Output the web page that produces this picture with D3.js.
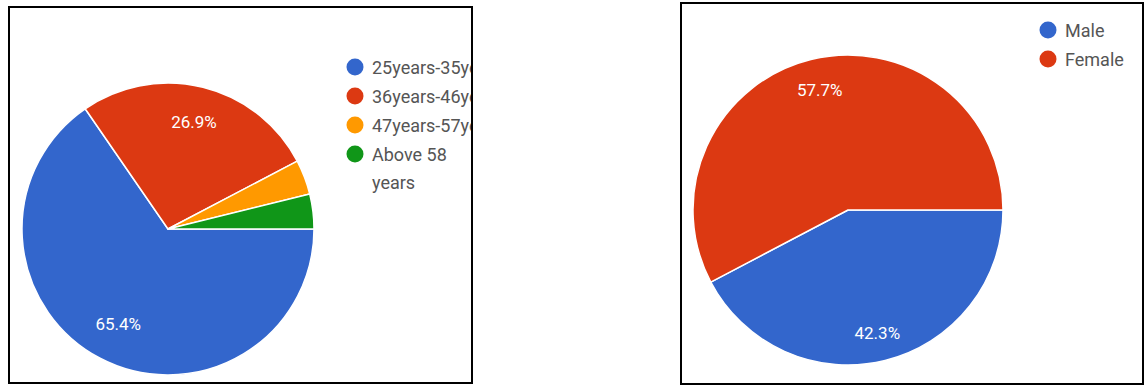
<!DOCTYPE html>
<html><head><meta charset="utf-8">
<script src="https://cdn.jsdelivr.net/npm/d3@7"></script>
<style>body{margin:0;background:#fff}svg{display:block}</style>
</head><body>
<svg id="c" width="1145" height="387"></svg>
<script>
const ageCategories = ["25years-35years", "36years-46years", "47years-57years", "Above 58 years"];
const ageLegendLines = [["25years-35years"], ["36years-46years"], ["47years-57years"], ["Above 58", "years"]];
const ageValues = [65.4, 26.9, 3.85, 3.85];
const ageLabels = ["65.4%", "26.9%", "", ""];
const genderCategories = ["Male", "Female"];
const genderValues = [42.3, 57.7];
const genderLabels = ["42.3%", "57.7%"];
const colors = ["#3366cc", "#dc3912", "#ff9900", "#109618"];

const svg = d3.select("#c");
const font = "Roboto, Arial, sans-serif";

function panel(opt) {
  const g = svg.append("g");
  const clipId = "clip" + opt.id;
  svg.append("defs").append("clipPath").attr("id", clipId)
    .append("rect").attr("x", opt.box[0]).attr("y", opt.box[1])
    .attr("width", opt.box[2] - opt.box[0]).attr("height", opt.box[3] - opt.box[1]);
  const inner = g.append("g").attr("clip-path", `url(#${clipId})`);
  const pie = d3.pie().sort(null).value(d => d)
    .startAngle(Math.PI / 2).endAngle(Math.PI / 2 + 2 * Math.PI);
  const arcs = pie(opt.values);
  const arc = d3.arc().innerRadius(0).outerRadius(opt.r);
  const pg = inner.append("g").attr("transform", `translate(${opt.cx},${opt.cy})`);
  pg.selectAll("path").data(arcs).join("path")
    .attr("d", arc).attr("fill", (d, i) => colors[i])
    .attr("stroke", "#fff").attr("stroke-width", 1.5).attr("stroke-linejoin", "round");
  const larc = d3.arc().innerRadius(opt.r * 0.6).outerRadius(opt.r * 0.6);
  pg.selectAll("text").data(arcs).join("text")
    .attr("transform", (d, i) => {
      const c = larc.centroid(d);
      return `translate(${c[0] + opt.loff[i][0]},${c[1] + opt.loff[i][1]})`;
    })
    .attr("text-anchor", "middle").attr("dominant-baseline", "central")
    .attr("fill", "#fff").attr("font-family", font).attr("font-size", 17)
    .text((d, i) => opt.labels[i]);
  // legend
  const lg = inner.append("g");
  let y = opt.ly;
  opt.legend.forEach((lines, i) => {
    lg.append("circle").attr("cx", opt.lx).attr("cy", y).attr("r", 8.5).attr("fill", colors[i]);
    lines.forEach((t, j) => {
      lg.append("text").attr("x", opt.lx + 17).attr("y", y + j * 28)
        .attr("dominant-baseline", "central").attr("fill", "#555")
        .attr("font-family", font).attr("font-size", 18).text(t);
    });
    y += 29;
  });
  g.append("rect").attr("x", opt.box[0]).attr("y", opt.box[1])
    .attr("width", opt.box[2] - opt.box[0]).attr("height", opt.box[3] - opt.box[1])
    .attr("fill", "none").attr("stroke", "#000").attr("stroke-width", 2);
}

panel({
  id: 1, box: [9, 7, 472, 383], cx: 168, cy: 229, r: 146,
  values: ageValues, labels: ageLabels,
  legend: ageLegendLines, lx: 355, ly: 67,
  loff: [[-9, 17], [5, -22], [0, 0], [0, 0]]
});
panel({
  id: 2, box: [681, 3, 1143, 384], cx: 848, cy: 210, r: 155,
  values: genderValues, labels: genderLabels,
  legend: genderCategories.map(d => [d]), lx: 1048, ly: 30,
  loff: [[7, 33], [-6, -30]]
});
</script>
</body></html>
